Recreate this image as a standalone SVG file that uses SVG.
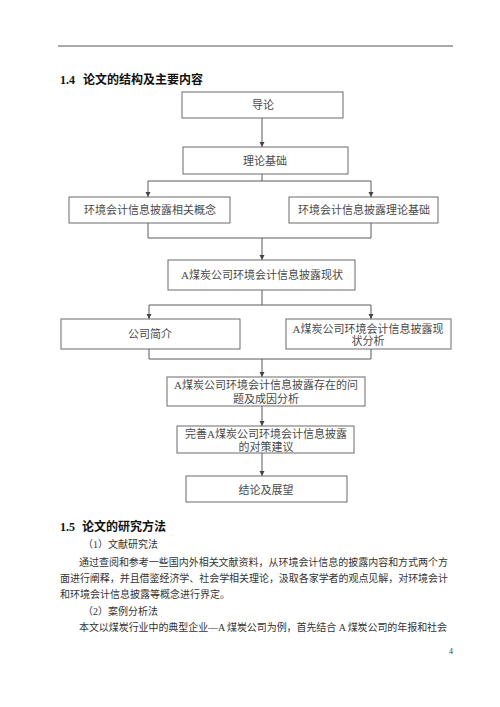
<svg xmlns="http://www.w3.org/2000/svg" width="500" height="707" viewBox="0 0 500 707">
<defs>
<style>
.box{fill:#fff;stroke:#6a6a6a;stroke-width:1}
.bt{font-family:"Liberation Serif","Noto Sans CJK SC",serif;font-size:11px;fill:#4a4a4a;text-anchor:middle}
.conn{fill:none;stroke:#5a5a5a;stroke-width:1}
.h{font-family:"Liberation Serif","Noto Sans CJK SC",serif;font-size:12px;font-weight:bold;fill:#111}
.p{font-family:"Liberation Serif","Noto Sans CJK SC",serif;font-size:10px;fill:#333}
</style>
<marker id="ar" markerWidth="6" markerHeight="6" refX="5" refY="3" orient="auto" markerUnits="userSpaceOnUse">
<path d="M0,0.5 L5,3 L0,5.5 Z" fill="#444"/>
</marker>
</defs>
<rect width="500" height="707" fill="#fff"/>
<line x1="58" y1="46" x2="453" y2="46" stroke="#555" stroke-width="1"/>
<text class="h" x="60" y="84">1.4<tspan x="83">论文的结构及主要内容</tspan></text>

<g id="conns">
<path class="conn" d="M262,118 V147" marker-end="url(#ar)"/>
<path class="conn" d="M262,174 V181 M148,181 H371"/>
<path class="conn" d="M148,181 V197" marker-end="url(#ar)"/>
<path class="conn" d="M371,181 V197" marker-end="url(#ar)"/>
<path class="conn" d="M148,223 V238 H371 V223"/>
<path class="conn" d="M262,238 V260" marker-end="url(#ar)"/>
<path class="conn" d="M262,290 V305 M149,305 H371"/>
<path class="conn" d="M149,305 V319" marker-end="url(#ar)"/>
<path class="conn" d="M371,305 V319" marker-end="url(#ar)"/>
<path class="conn" d="M149,349 V359 H371 V349"/>
<path class="conn" d="M262,359 V377" marker-end="url(#ar)"/>
<path class="conn" d="M262,406 V426" marker-end="url(#ar)"/>
<path class="conn" d="M262,453 V476" marker-end="url(#ar)"/>
</g>

<g id="n1"><rect class="box" x="182" y="92" width="161" height="26"/><text class="bt" x="263" y="109">导论</text></g>
<g id="n2"><rect class="box" x="183" y="147" width="165" height="27"/><text class="bt" x="265" y="165">理论基础</text></g>
<g id="n3"><rect class="box" x="69" y="197" width="161" height="26"/><text class="bt" x="150" y="214">环境会计信息披露相关概念</text></g>
<g id="n4"><rect class="box" x="289" y="197" width="149" height="26"/><text class="bt" x="364" y="214">环境会计信息披露理论基础</text></g>
<g id="n5"><rect class="box" x="168" y="260" width="187" height="30"/><text class="bt" x="262" y="279">A煤炭公司环境会计信息披露现状</text></g>
<g id="n6"><rect class="box" x="61" y="319" width="179" height="30"/><text class="bt" x="150" y="338">公司简介</text></g>
<g id="n7"><rect class="box" x="286" y="319" width="165" height="30"/><text class="bt" x="368" y="333">A煤炭公司环境会计信息披露现</text><text class="bt" x="368" y="345">状分析</text></g>
<g id="n8"><rect class="box" x="167" y="377" width="198" height="29"/><text class="bt" x="266" y="389">A煤炭公司环境会计信息披露存在的问</text><text class="bt" x="266" y="403">题及成因分析</text></g>
<g id="n9"><rect class="box" x="177" y="426" width="177" height="27"/><text class="bt" x="266" y="438">完善A煤炭公司环境会计信息披露</text><text class="bt" x="266" y="451">的对策建议</text></g>
<g id="n10"><rect class="box" x="186" y="476" width="161" height="26"/><text class="bt" x="266" y="494">结论及展望</text></g>

<text class="h" x="60" y="531">1.5<tspan x="82">论文的研究方法</tspan></text>
<text class="p" x="83" y="548">（1）文献研究法</text>
<text class="p" x="79" y="566" textLength="369" lengthAdjust="spacing">通过查阅和参考一些国内外相关文献资料，从环境会计信息的披露内容和方式两个方</text>
<text class="p" x="60" y="582" textLength="388" lengthAdjust="spacing">面进行阐释，并且借鉴经济学、社会学相关理论，汲取各家学者的观点见解，对环境会计</text>
<text class="p" x="60" y="598">和环境会计信息披露等概念进行界定。</text>
<text class="p" x="83" y="615">（2）案例分析法</text>
<text class="p" x="79" y="631" textLength="368" lengthAdjust="spacing">本文以煤炭行业中的典型企业—A 煤炭公司为例，首先结合 A 煤炭公司的年报和社会</text>
<text class="p" x="449" y="654" style="font-size:8px">4</text>
</svg>
